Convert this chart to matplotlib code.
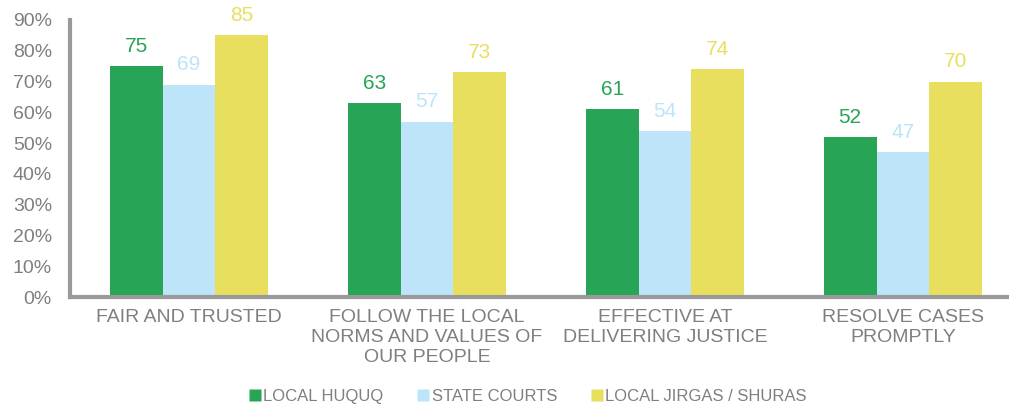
import numpy as np
import matplotlib.pyplot as plt
from matplotlib.lines import Line2D

plt.rcParams['font.family'] = ['Liberation Sans', 'DejaVu Sans']

categories = ['FAIR AND TRUSTED',
              'FOLLOW THE LOCAL\nNORMS AND VALUES OF\nOUR PEOPLE',
              'EFFECTIVE AT\nDELIVERING JUSTICE',
              'RESOLVE CASES\nPROMPTLY']
series = ['LOCAL HUQUQ', 'STATE COURTS', 'LOCAL JIRGAS / SHURAS']
huquq = [75, 63, 61, 52]
state = [69, 57, 54, 47]
jirgas = [85, 73, 74, 70]
colors = ['#27a456', '#bde4f8', '#e8df5f']
grey = '#7f7f7f'

fig = plt.figure(figsize=(10.09, 4.07), dpi=100)
ax = fig.add_axes([70/1009, 110/407, 952/1009, 277/407])

x = np.arange(len(categories))
w = 0.222
for i, (vals, c) in enumerate(zip([huquq, state, jirgas], colors)):
    pos = x + (i - 1) * w
    ax.bar(pos, vals, w, color=c, edgecolor='none', zorder=2)
    for p, v in zip(pos, vals):
        ax.text(p, v + 3.3, str(v), ha='center', va='bottom', color=c, fontsize=15)

ax.set_xlim(-0.5, 3.5)
ax.set_ylim(0, 90)
ax.set_yticks(np.arange(0, 91, 10))
ax.set_yticklabels([f'{t}%' for t in range(0, 91, 10)])
ax.set_xticks(x)
ax.set_xticklabels(categories, linespacing=1.2)
ax.tick_params(axis='y', length=0, pad=13, labelsize=14, labelcolor=grey)
ax.tick_params(axis='x', length=0, pad=9, labelsize=14, labelcolor=grey)

for s in ['top', 'right']:
    ax.spines[s].set_visible(False)
for s in ['left', 'bottom']:
    ax.spines[s].set_color('#9a9a9c')
    ax.spines[s].set_linewidth(3)

handles = [Line2D([], [], marker='s', linestyle='none', markersize=8,
                  markerfacecolor=c, markeredgecolor='none') for c in colors]
fig.legend(handles, series, loc='center', bbox_to_anchor=(0.522, 0.025), ncol=3,
           frameon=False, fontsize=12, labelcolor=grey, handletextpad=0.0,
           columnspacing=1.9, handlelength=1.0)

fig.savefig('out.png', dpi=100)
